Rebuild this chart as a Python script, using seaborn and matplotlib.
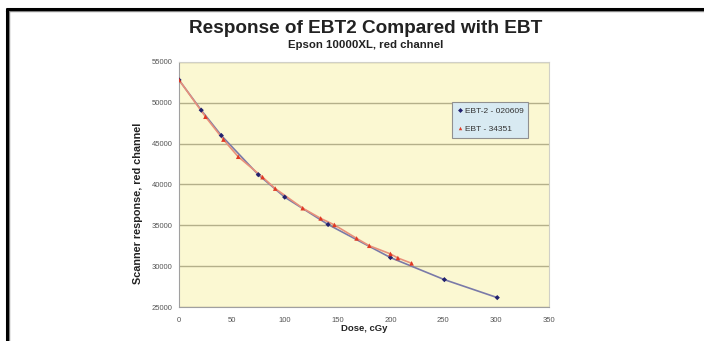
import matplotlib
matplotlib.use("Agg")
import matplotlib.pyplot as plt
from matplotlib.lines import Line2D
import numpy as np
import pandas as pd
import seaborn as sns

# Dose (cGy) and scanner response (red channel) for the two film lots
ebt2_dose = [0, 21, 40, 75, 100, 141, 200, 251, 301]
ebt2_resp = [52800, 49100, 46000, 41200, 38450, 35100, 31050, 28350, 26150]

ebt_dose = [0, 25, 42, 56, 79, 91, 117, 134, 147, 168, 180, 200, 207, 220]
ebt_resp = [52800, 48300, 45500, 43400, 40900, 39500, 37100, 35850, 35050,
            33400, 32500, 31500, 31000, 30350]

series_names = ["EBT-2 - 020609", "EBT - 34351"]
x_ticks = [0, 50, 100, 150, 200, 250, 300, 350]
y_ticks = [25000, 30000, 35000, 40000, 45000, 50000, 55000]

df = pd.concat([
    pd.DataFrame({"dose": ebt2_dose, "resp": ebt2_resp, "series": series_names[0]}),
    pd.DataFrame({"dose": ebt_dose, "resp": ebt_resp, "series": series_names[1]}),
], ignore_index=True)

sns.set_theme(style="white")
plt.rcParams["font.family"] = ["Liberation Sans", "DejaVu Sans"]

line_colors = {series_names[0]: "#7a7aa8", series_names[1]: "#e8907a"}
marker_colors = {series_names[0]: "#22226e", series_names[1]: "#e03a24"}
marker_shapes = {series_names[0]: "D", series_names[1]: "^"}

fig = plt.figure(figsize=(7.04, 3.41), dpi=100)
ax = fig.add_axes([0.2543, 0.0997, 0.5256, 0.7185])
ax.set_facecolor("#fbf8d2")

sns.lineplot(data=df, x="dose", y="resp", hue="series", palette=line_colors,
             sort=False, linewidth=1.2, legend=False, ax=ax, zorder=2)
sns.scatterplot(data=df, x="dose", y="resp", hue="series", style="series",
                palette=marker_colors, markers=marker_shapes,
                size="series", sizes={series_names[0]: 7, series_names[1]: 11},
                edgecolor="none", legend=False, ax=ax, zorder=3)

ax.set_xlim(0, 350)
ax.set_ylim(25000, 55000)
ax.set_xticks(x_ticks)
ax.set_yticks(y_ticks)
ax.set_xticklabels([str(v) for v in x_ticks])
ax.set_yticklabels([str(v) for v in y_ticks])
ax.tick_params(axis="both", labelsize=5.5, colors="#555555", length=0)
ax.tick_params(axis="x", pad=7.5)
ax.tick_params(axis="y", pad=4.5)
ax.yaxis.grid(True, color="#b4b08a", linewidth=1.0)
ax.xaxis.grid(False)
ax.set_axisbelow(True)
for side in ["top", "right"]:
    ax.spines[side].set_color("#d0d0c8")
    ax.spines[side].set_linewidth(0.8)
for side in ["left", "bottom"]:
    ax.spines[side].set_color("#a0a0a0")
    ax.spines[side].set_linewidth(0.8)

ax.set_xlabel("Dose, cGy", fontsize=6.8, fontweight="bold", color="#222222")
ax.xaxis.set_label_coords(0.5, -0.068)
ax.set_ylabel("Scanner response, red channel", fontsize=7.8, fontweight="bold",
              color="#222222")
ax.yaxis.set_label_coords(-0.097, 0.424)

handles = [
    Line2D([], [], linestyle="none", marker=marker_shapes[n], markersize=2.5,
           markerfacecolor=marker_colors[n], markeredgecolor="none", label=n)
    for n in series_names
]
leg = ax.legend(handles=handles, loc="upper left", bbox_to_anchor=(0.727, 0.853),
                fontsize=6, frameon=True, fancybox=False, handlelength=0.6,
                handletextpad=0.3, borderpad=0.6, labelspacing=1.25)
leg.get_frame().set_facecolor("#d8eaf2")
leg.get_frame().set_edgecolor("#909090")
leg.get_frame().set_linewidth(0.8)
leg.get_frame().set_alpha(1)
for t in leg.get_texts():
    t.set_color("#333333")

fig.text(0.52, 1 - 33 / 341, "Response of EBT2 Compared with EBT", ha="center",
         va="baseline", fontsize=13.7, fontweight="bold", color="#222222")
fig.text(0.52, 1 - 48 / 341, "Epson 10000XL, red channel", ha="center",
         va="baseline", fontsize=8.2, fontweight="bold", color="#222222")

# heavy frame along the top and left edges
fig.add_artist(Line2D([6 / 704, 1.0], [1 - 10.5 / 341] * 2, transform=fig.transFigure,
                      color="#888888", linewidth=1.0))
fig.add_artist(Line2D([8.5 / 704] * 2, [0, 1 - 10 / 341], transform=fig.transFigure,
                      color="#888888", linewidth=1.0))
fig.add_artist(Line2D([6 / 704, 1.0], [1 - 9 / 341] * 2, transform=fig.transFigure,
                      color="black", linewidth=2.2, solid_capstyle="butt"))
fig.add_artist(Line2D([7 / 704] * 2, [0, 1 - 8 / 341], transform=fig.transFigure,
                      color="black", linewidth=2.2, solid_capstyle="butt"))

fig.savefig("out.png", dpi=100, facecolor="white")
